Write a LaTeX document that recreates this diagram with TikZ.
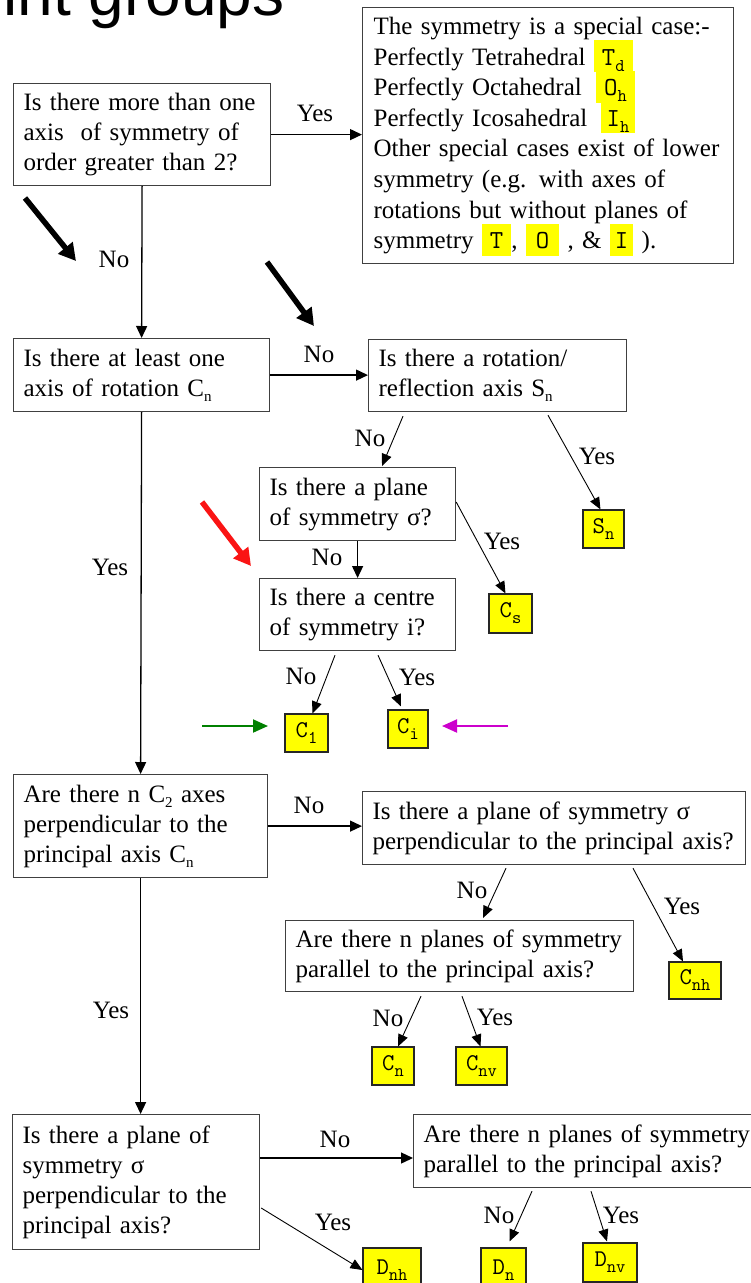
\documentclass[tikz,border=0pt]{standalone}
\usepackage{fontspec}
\setmainfont{Liberation Serif}
\newcommand\symfont{\ttfamily}
\newfontfamily\titlefont{Liberation Sans}
\usetikzlibrary{arrows.meta,calc}
\definecolor{boxgray}{RGB}{64,64,64}
\definecolor{hlyellow}{RGB}{255,255,0}
\definecolor{darkgreen}{RGB}{0,128,0}
\definecolor{purp}{RGB}{204,0,204}
\definecolor{brightred}{RGB}{250,20,20}
\newcommand\sbs[1]{\raisebox{-5pt}{\fontsize{15}{15}\selectfont #1}}
\newcommand\sbm[1]{\raisebox{-6pt}{\fontsize{18}{18}\selectfont #1}}
\newcommand\hlt[2][8pt]{\smash{\setlength{\fboxsep}{0pt}\colorbox{hlyellow}{\rule[-7pt]{0pt}{32pt}\hspace{#1}{\symfont\fontsize{26}{26}\selectfont #2}\hspace{#1}}}}
\begin{document}
\begin{tikzpicture}[x=1pt,y=-1pt,
  qbox/.style={draw=boxgray, line width=1.2pt, fill=white, anchor=north west,
    inner xsep=10pt, inner ysep=2pt, align=left, font=\fontsize{25}{30}\selectfont},
  sym/.style={draw=black!85, fill=hlyellow, line width=1.1pt, inner sep=0pt,
    font=\symfont\fontsize{24}{24}\selectfont},
  lbl/.style={inner sep=0pt, font=\fontsize{25}{30}\selectfont},
  arr/.style={line width=1.3pt, -{Triangle[length=12pt,width=11pt]}},
  darr/.style={line width=0.9pt, -{Triangle[length=12pt,width=10pt]}},
  bigarr/.style={line width=5.5pt, -{Triangle[length=17pt,width=18pt]}},
  colarr/.style={line width=2pt, -{Triangle[length=15pt,width=13pt]}}]
\useasboundingbox (0,0) rectangle (751,1283);
\clip (0,0) rectangle (751,1283);
\fill[white] (0,0) rectangle (751,1283);

% title (cut off)
\node[anchor=base west, inner sep=0pt, font=\titlefont\fontsize{64}{64}\selectfont] (title) at (-75,15) {Point groups};

% question boxes
\node[qbox, minimum width=257pt, minimum height=102pt, text width=237pt] (A) at (13,83)
  {Is there more than one\\axis\ \ of symmetry of\\order greater than 2?};
\node[qbox, minimum width=371pt, minimum height=256pt, text width=349pt, inner xsep=11pt,
  font=\fontsize{25}{30.6}\selectfont] (B) at (362,7)
  {The symmetry is a special case:-\\
   Perfectly Tetrahedral \hlt{T\sbm{d}}\\
   Perfectly Octahedral \hspace{6pt}\hlt{O\sbm{h}}\\
   Perfectly Icosahedral \hspace{5pt}\hlt[6pt]{I\sbm{h}}\\
   Other special cases exist of lower\\
   symmetry (e.g. with axes of\\
   rotations but without planes of\\
   symmetry \hlt{T}, \hlt[10pt]{O} , \& \hlt[5pt]{I} ).};
\node[qbox, minimum width=256pt, minimum height=73pt, text width=236pt] (C) at (13,338)
  {Is there at least one\\axis of rotation C\sbs{n}};
\node[qbox, minimum width=258pt, minimum height=72pt, text width=238pt] (D) at (368,339)
  {Is there a rotation/\\reflection axis S\sbs{n}};
\node[qbox, minimum width=196pt, minimum height=73pt, text width=176pt] (E) at (259,467)
  {Is there a plane\\of symmetry σ?};
\node[qbox, minimum width=196pt, minimum height=72pt, text width=176pt] (F) at (259,578)
  {Is there a centre\\of symmetry i?};
\node[qbox, minimum width=254pt, minimum height=103pt, text width=234pt] (G) at (13,774)
  {Are there n C\sbs{2} axes\\perpendicular to the\\principal axis C\sbs{n}};
\node[qbox, minimum width=383pt, minimum height=73pt, text width=363pt] (H) at (362,791)
  {Is there a plane of symmetry σ\\perpendicular to the principal axis?};
\node[qbox, minimum width=348pt, minimum height=71pt, text width=328pt] (I) at (285,920)
  {Are there n planes of symmetry\\parallel to the principal axis?};
\node[qbox, minimum width=247pt, minimum height=135pt, text width=227pt] (J) at (12,1114)
  {Is there a plane of\\symmetry σ\\perpendicular to the\\principal axis?};
\node[qbox, minimum width=360pt, minimum height=73pt, text width=340pt] (K) at (413,1114)
  {Are there n planes of symmetry\\parallel to the principal axis?};

% result boxes
\node[sym, minimum width=41pt, minimum height=38pt] (Sn) at (603.5,529) {S\sbm{n}};
\node[sym, minimum width=43pt, minimum height=39pt] (Cs) at (510.5,613.5) {C\sbm{s}};
\node[sym, minimum width=43pt, minimum height=38pt] (C1) at (306.5,733) {C\sbm{1}};
\node[sym, minimum width=40pt, minimum height=38pt] (Ci) at (408,729) {C\sbm{i}};
\node[sym, minimum width=52pt, minimum height=37pt] (Cnh) at (695,980.5) {C\sbm{nh}};
\node[sym, minimum width=42pt, minimum height=38pt] (Cn) at (393,1066) {C\sbm{n}};
\node[sym, minimum width=51pt, minimum height=38pt] (Cnv) at (481.5,1066) {C\sbm{nv}};
\node[sym, minimum width=58pt, minimum height=44pt] (Dnh) at (392,1270) {D\sbm{nh}};
\node[sym, minimum width=45pt, minimum height=44pt] (Dn) at (503.5,1270) {D\sbm{n}};
\node[sym, minimum width=54pt, minimum height=39pt] (Dnv) at (610,1262.5) {D\sbm{nv}};

% connectors
\draw[arr] (A.east) -- (A.east -| B.west);
\draw[arr] (A.south) -- (C.north);
\draw[arr] (C.east) -- (C.east -| D.west);
\draw[darr] ($(D.south west)+(35,4)$) -- ($(E.north west)+(123,-1)$);
\draw[darr] ($(D.south west)+(180,3)$) -- ($(Sn.north)+(-3,0)$);
\draw[darr] ($(E.north east)+(0,35)$) -- ($(Cs.north)+(-5,0)$);
\draw[arr] (E.south) -- (F.north);
\draw[darr] ($(F.south west)+(76,4)$) -- ($(C1.north)+(6,0)$);
\draw[darr] ($(F.south west)+(119,4)$) -- ($(Ci.north)+(-7,-3)$);
\draw[arr] (C.south) -- (G.north);
\draw[arr] (G.east) -- (G.east -| H.west);
\draw[darr] ($(H.south west)+(144,3)$) -- ($(I.north west)+(198,-2)$);
\draw[darr] ($(H.south west)+(271,3)$) -- ($(Cnh.north)+(-12,0)$);
\draw[darr] ($(I.south west)+(136,4)$) -- ($(Cn.north)+(5,0)$);
\draw[darr] ($(I.south west)+(177,4)$) -- ($(Cnv.north)+(-1,0)$);
\draw[arr] (G.south) -- (G.south |- J.north);
\coordinate (jk) at ($(J.north east)+(0,44)$);
\draw[arr] (jk) -- (jk -| K.west);
\draw[darr] ($(J.north east)+(1,94)$) -- (Dnh.west);
\draw[darr] ($(K.south west)+(119,3)$) -- ($(Dn.north)+(6,-6)$);
\draw[darr] ($(K.south west)+(178,3)$) -- ($(Dnv.north)+(-3,-1)$);

% labels
\node[lbl] (l1) at (315,113) {Yes};
\node[lbl] (l2) at (114,259) {No};
\node[lbl] (l3) at (319,354) {No};
\node[lbl] (l4) at (370,438) {No};
\node[lbl] (l5) at (597,456) {Yes};
\node[lbl] (l6) at (502,541) {Yes};
\node[lbl] (l7) at (327,557) {No};
\node[lbl] (l8) at (301,676) {No};
\node[lbl] (l9) at (417,677) {Yes};
\node[lbl] (l10) at (110,567) {Yes};
\node[lbl] (l11) at (309,805) {No};
\node[lbl] (l12) at (472,890) {No};
\node[lbl] (l13) at (682,906) {Yes};
\node[lbl] (l14) at (388,1018) {No};
\node[lbl] (l15) at (495,1017) {Yes};
\node[lbl] (l16) at (111,1010) {Yes};
\node[lbl] (l17) at (335,1139) {No};
\node[lbl] (l18) at (333,1222) {Yes};
\node[lbl] (l19) at (499,1215) {No};
\node[lbl] (l20) at (621,1215) {Yes};

% pointer arrows
\coordinate (k1s) at (25,198); \coordinate (k1e) at (76,261);
\draw[bigarr] (k1s) -- (k1e);
\coordinate (k2s) at (267,262); \coordinate (k2e) at (314,326);
\draw[bigarr] (k2s) -- (k2e);
\coordinate (rs) at (202,502); \coordinate (re) at (251,566);
\draw[bigarr, brightred] (rs) -- (re);
\coordinate (gs) at (202,726); \coordinate (ge) at (268,726);
\draw[colarr, darkgreen] (gs) -- (ge);
\coordinate (ms) at (508,726); \coordinate (me) at (442,726);
\draw[colarr, purp] (ms) -- (me);
\end{tikzpicture}
\end{document}
